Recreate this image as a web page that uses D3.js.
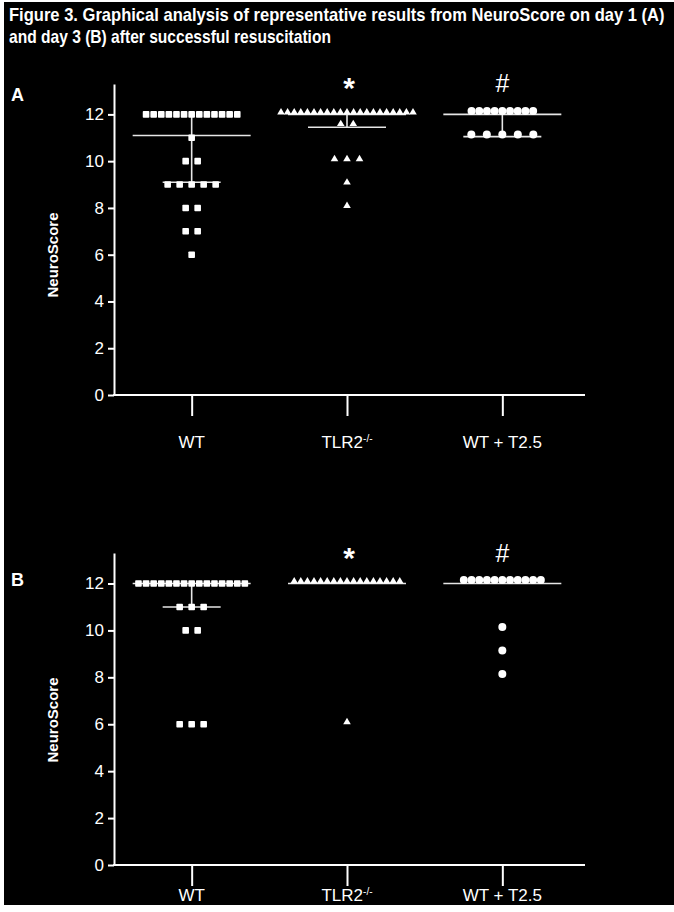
<!DOCTYPE html>
<html><head><meta charset="utf-8">
<script src="https://cdn.jsdelivr.net/npm/d3@7"></script>
<style>body{margin:0;background:#fff}svg{display:block}</style>
</head><body><svg id="c" width="674" height="912"></svg>
<script>
// ---------- data ----------
const categories = ["WT", "TLR2", "WT + T2.5"];
const yTicks = [0, 2, 4, 6, 8, 10, 12];
const sigMarks = ["", "*", "#"];

// Panel A (day 1)
const a_WT   = [12,12,12,12,12,12,12,12,12,12,12,12,12, 11, 10,10, 9,9,9,9,9, 8,8, 7,7, 6];
const a_TLR2 = [12,12,12,12,12,12,12,12,12,12,12,12,12,12,12,12,12,12,12,12,12, 11.5,11.5, 10,10,10, 9, 8];
const a_T25  = [12,12,12,12,12,12,12,12,12, 11,11,11,11,11];
const a_median = [11.1, 12, 12];
const a_lowerQ = [9.1, 11.45, 11.05];
const a_upperQ = [12, 12, 12];

// Panel B (day 3)
const b_WT   = [12,12,12,12,12,12,12,12,12,12,12,12,12,12,12, 11,11,11, 10,10, 6,6,6];
const b_TLR2 = [12,12,12,12,12,12,12,12,12,12,12,12,12,12,12,12,12, 6];
const b_T25  = [12,12,12,12,12,12,12,12,12,12,12, 10, 9, 8];
const b_median = [12, 12, 12];
const b_lowerQ = [11, 12, 12];
const b_upperQ = [12, 12, 12];

// ---------- layout / style ----------
const W = 674, H = 912;
const svg = d3.select("#c");
const FONT = "'Liberation Sans Narrow','Arial Narrow','Liberation Sans',Arial,sans-serif";
svg.append("rect").attr("x", 4).attr("y", 2).attr("width", W - 4).attr("height", 903).attr("fill", "#000");

// Title (condensed by horizontal scaling to the reference width)
const titleLines = [
  {t: "Figure 3. Graphical analysis of representative results from NeuroScore on day 1 (A)", y: 21, len: 656},
  {t: "and day 3 (B) after successful resuscitation", y: 43, len: 322}
];
titleLines.forEach(d => {
  const g = svg.append("g");
  const t = g.append("text").attr("x", 0).attr("y", 0)
    .attr("fill", "#fff").attr("font-family", FONT).attr("font-weight", "bold").attr("font-size", 18)
    .text(d.t);
  const nat = t.node().getComputedTextLength();
  g.attr("transform", `translate(9,${d.y}) scale(${d.len / nat},1)`);
});

const x = d3.scalePoint().domain(categories).range([114, 580]).padding(0.5);

const symKind = ["square", "triangle", "circle"];
const tightSp = [7.6, 6.6, 7.7];
const wideSp  = [12, 12.5, 15.5];
const capW = [58, 78, 78];
const medW = 118;

const panels = [
  {label: "A", y0: 395, yTop: 84, labelY: 101, data: [a_WT, a_TLR2, a_T25], med: a_median, lq: a_lowerQ, uq: a_upperQ, catBase: 448, sigY: 92, ylabY: 255},
  {label: "B", y0: 865, yTop: 553, labelY: 586, data: [b_WT, b_TLR2, b_T25], med: b_median, lq: b_lowerQ, uq: b_upperQ, catBase: 901, sigY: 562, ylabY: 720}
];

panels.forEach(p => {
  const g = svg.append("g");
  const y = d3.scaleLinear().domain([0, 13.3]).range([p.y0, p.yTop]);

  // panel letter
  g.append("text").attr("x", 11).attr("y", p.labelY).attr("fill", "#fff")
    .attr("font-family", "'Liberation Sans',Arial,sans-serif").attr("font-weight", "bold").attr("font-size", 18).text(p.label);

  // y axis
  const ya = g.append("g").attr("transform", "translate(114,0)")
    .call(d3.axisLeft(y).tickValues(yTicks).tickSize(6).tickSizeOuter(0).tickPadding(4));
  ya.select(".domain").attr("stroke", "#fff").attr("stroke-width", 2);
  ya.selectAll(".tick line").attr("stroke", "#fff").attr("stroke-width", 2);
  ya.selectAll(".tick text").attr("fill", "#fff").attr("font-family", FONT).attr("font-size", 17);

  // y axis title
  g.append("text").attr("transform", `translate(58,${p.ylabY}) rotate(-90)`)
    .attr("text-anchor", "middle").attr("fill", "#fff").attr("font-family", FONT)
    .attr("font-weight", "bold").attr("font-size", 15).text("NeuroScore");

  // x axis
  g.append("line").attr("x1", 113).attr("x2", 585).attr("y1", p.y0).attr("y2", p.y0)
    .attr("stroke", "#fff").attr("stroke-width", 2);
  const xa = g.append("g").attr("transform", `translate(0,${p.y0})`)
    .call(d3.axisBottom(x).tickSize(21).tickSizeOuter(0).tickPadding(0));
  xa.select(".domain").remove();
  xa.selectAll(".tick line").attr("stroke", "#fff").attr("stroke-width", 2);
  xa.selectAll(".tick text").remove();
  categories.forEach(c => {
    const t = g.append("text").attr("x", x(c)).attr("y", p.catBase).attr("text-anchor", "middle")
      .attr("fill", "#fff").attr("font-family", FONT).attr("font-size", 17);
    if (c === "TLR2") {
      t.append("tspan").text("TLR2");
      t.append("tspan").attr("dy", -6).attr("font-size", 10).text("-/-");
    } else t.text(c);
  });

  // significance marks
  categories.forEach((c, i) => {
    if (!sigMarks[i]) return;
    const isStar = sigMarks[i] === "*";
    g.append("text").attr("x", x(c) + (isStar ? 2 : 0)).attr("y", p.sigY + (isStar ? 6 : 0)).attr("text-anchor", "middle")
      .attr("fill", "#fff").attr("font-family", "'Liberation Sans',Arial,sans-serif")
      .attr("font-weight", isStar ? "bold" : "normal")
      .attr("font-size", isStar ? 30 : 25).text(sigMarks[i]);
  });

  // median + IQR lines
  categories.forEach((c, i) => {
    const cx = x(c);
    const lines = g.append("g").attr("stroke", "#e6e6e6").attr("stroke-width", 1.6);
    lines.append("line").attr("x1", cx - medW / 2).attr("x2", cx + medW / 2)
      .attr("y1", y(p.med[i])).attr("y2", y(p.med[i]));
    if (p.lq[i] < p.uq[i]) {
      lines.append("line").attr("x1", cx).attr("x2", cx).attr("y1", y(p.uq[i])).attr("y2", y(p.lq[i]));
      lines.append("line").attr("x1", cx - capW[i] / 2).attr("x2", cx + capW[i] / 2)
        .attr("y1", y(p.lq[i])).attr("y2", y(p.lq[i]));
    }
  });

  // points
  p.data.forEach((vals, i) => {
    const cx = x(categories[i]);
    const rows = d3.group(vals, v => v);
    const pts = [];
    rows.forEach((arr, v) => {
      const n = arr.length;
      const sp = n > 5 ? tightSp[i] : wideSp[i];
      arr.forEach((_, k) => pts.push({v, dx: (k - (n - 1) / 2) * sp}));
    });
    const pg = g.append("g").attr("fill", "#fff");
    pts.forEach(d => {
      const px = cx + d.dx, py = y(d.v);
      if (symKind[i] === "square") {
        pg.append("rect").attr("x", px - 3.3).attr("y", py - 3.3).attr("width", 6.6).attr("height", 6.6).attr("rx", 0.8);
      } else if (symKind[i] === "triangle") {
        pg.append("path").attr("d", `M${px - 3.8},${py}L${px + 3.8},${py}L${px},${py - 6.4}Z`);
      } else {
        pg.append("circle").attr("cx", px).attr("cy", py - 3.4).attr("r", 4);
      }
    });
  });
});
</script></body></html>
